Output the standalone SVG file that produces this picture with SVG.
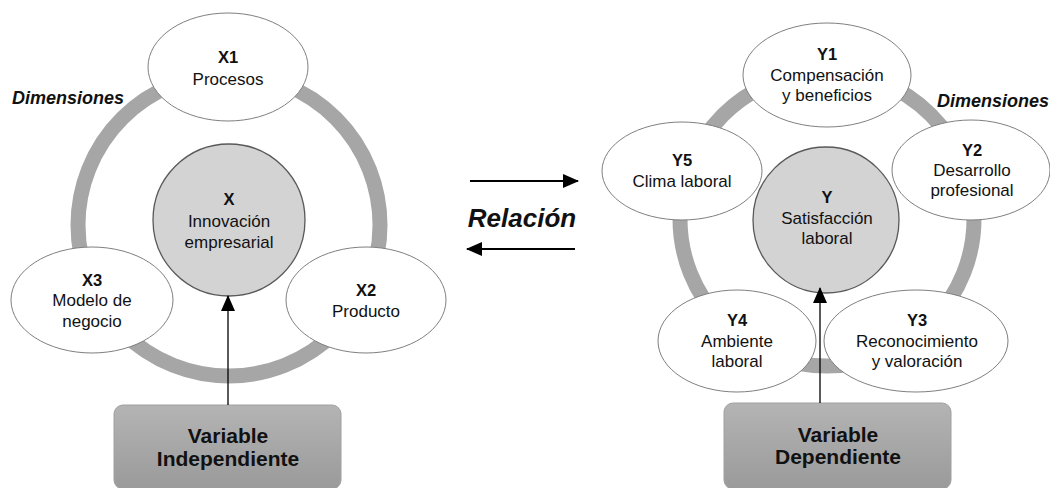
<svg xmlns="http://www.w3.org/2000/svg" width="1050" height="488" viewBox="0 0 1050 488">
<defs>
<linearGradient id="boxg" x1="0" y1="0" x2="0" y2="1">
<stop offset="0" stop-color="#b4b4b4"/>
<stop offset="1" stop-color="#9a9a9a"/>
</linearGradient>
<marker id="ahb" markerWidth="16" markerHeight="14" refX="15" refY="7" orient="auto" markerUnits="userSpaceOnUse" viewBox="0 0 16 14">
<path d="M0,0 L16,7 L0,14 z" fill="#000"/>
</marker>
</defs>
<style>
text{font-family:"Liberation Sans",Arial,sans-serif;fill:#111;text-anchor:middle}
.t{font-size:17px}
.b{font-size:16.5px;font-weight:bold}
.dim{font-size:18px;font-weight:bold;font-style:italic;text-anchor:start}
.vb{font-size:21px;font-weight:bold}
.ring{fill:none;stroke:#a6a6a6;stroke-width:15}
.el{fill:#fff;stroke:#7f7f7f;stroke-width:1}
.core{fill:#d3d3d3;stroke:#595959;stroke-width:1.3}
.box{fill:url(#boxg);stroke:#a0a0a0;stroke-width:1}
.con{stroke:#000;stroke-width:1.3;fill:none}
.rel{stroke:#000;stroke-width:2;fill:none}
</style>

<!-- rings -->
<circle class="ring" cx="229" cy="225" r="151"/>
<circle class="ring" cx="827" cy="219" r="147"/>

<!-- Left diagram -->
<g id="X">
<circle class="core" cx="229" cy="220" r="76"/>
<text class="b" x="229" y="205">X</text>
<text class="t" x="229" y="227">Innovación</text>
<text class="t" x="229" y="248">empresarial</text>
</g>
<g id="X1">
<ellipse class="el" cx="228" cy="67" rx="80" ry="54"/>
<text class="b" x="228" y="63">X1</text>
<text class="t" x="228" y="85">Procesos</text>
</g>
<g id="X2">
<ellipse class="el" cx="366" cy="300" rx="80" ry="53"/>
<text class="b" x="366" y="296">X2</text>
<text class="t" x="366" y="317">Producto</text>
</g>
<g id="X3">
<ellipse class="el" cx="92" cy="300" rx="81" ry="53"/>
<text class="b" x="92" y="286">X3</text>
<text class="t" x="92" y="306">Modelo de</text>
<text class="t" x="92" y="327">negocio</text>
</g>
<g id="dimX">
<text class="dim" x="12" y="104">Dimensiones</text>
</g>
<g id="VI">
<rect class="box" x="114" y="405" width="227" height="84" rx="9"/>
<text class="vb" x="228" y="443">Variable</text>
<text class="vb" x="228" y="466">Independiente</text>
</g>

<!-- Right diagram -->
<g id="Y">
<circle class="core" cx="826" cy="220" r="73"/>
<text class="b" x="827" y="203">Y</text>
<text class="t" x="827" y="224">Satisfacción</text>
<text class="t" x="827" y="244">laboral</text>
</g>
<g id="Y1">
<ellipse class="el" cx="827" cy="75" rx="84" ry="52"/>
<text class="b" x="827" y="60">Y1</text>
<text class="t" x="827" y="81">Compensación</text>
<text class="t" x="827" y="101">y beneficios</text>
</g>
<g id="Y2">
<ellipse class="el" cx="971" cy="170" rx="79" ry="50"/>
<text class="b" x="972" y="156">Y2</text>
<text class="t" x="972" y="176">Desarrollo</text>
<text class="t" x="972" y="196">profesional</text>
</g>
<g id="Y3">
<ellipse class="el" cx="916" cy="341" rx="92" ry="51"/>
<text class="b" x="917" y="326">Y3</text>
<text class="t" x="917" y="347">Reconocimiento</text>
<text class="t" x="917" y="367">y valoración</text>
</g>
<g id="Y4">
<ellipse class="el" cx="737" cy="341" rx="79" ry="51"/>
<text class="b" x="737" y="326">Y4</text>
<text class="t" x="737" y="347">Ambiente</text>
<text class="t" x="737" y="367">laboral</text>
</g>
<g id="Y5">
<ellipse class="el" cx="682" cy="171" rx="80" ry="49"/>
<text class="b" x="682" y="166">Y5</text>
<text class="t" x="682" y="187">Clima laboral</text>
</g>
<g id="dimY">
<text class="dim" x="937" y="107">Dimensiones</text>
</g>
<g id="VD">
<rect class="box" x="724" y="403" width="227" height="86" rx="9"/>
<text class="vb" x="838" y="442">Variable</text>
<text class="vb" x="838" y="464">Dependiente</text>
</g>

<!-- Relation label -->
<g id="relacion">
<text x="522" y="227" style="font-size:26px;font-weight:bold;font-style:italic">Relación</text>
</g>

<!-- connectors -->
<g id="connectors">
<line class="con" x1="228" y1="405" x2="228" y2="296" marker-end="url(#ahb)"/>
<line class="con" x1="820" y1="403" x2="820" y2="288" marker-end="url(#ahb)"/>
<line class="rel" x1="470" y1="181" x2="578" y2="181" marker-end="url(#ahb)"/>
<line class="rel" x1="575" y1="249" x2="467" y2="249" marker-end="url(#ahb)"/>
</g>
</svg>
